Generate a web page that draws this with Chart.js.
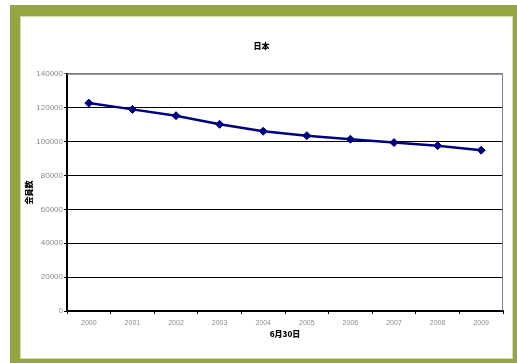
<!DOCTYPE html>
<html>
<head>
<meta charset="utf-8">
<script src="https://cdn.jsdelivr.net/npm/chart.js@4/dist/chart.umd.min.js"></script>
<style>
  html, body { margin: 0; padding: 0; background: #ffffff; width: 517px; height: 363px; overflow: hidden; }
  #frame { position: absolute; left: 10px; top: 5px; width: 507px; height: 358px; background: #95a543; }
  #panel { position: absolute; left: 20px; top: 16px; width: 491px; height: 341px; background: #ffffff; border: 1px solid #d4ddb0; }
  #holder { position: absolute; left: 20px; top: 16px; width: 492px; height: 343px; }
</style>
</head>
<body>
<div id="frame"></div>
<div id="panel"></div>
<div id="holder"><canvas id="chart" width="492" height="343"></canvas></div>
<script>
// Membership as of 30 June each year
const years = ['2000', '2001', '2002', '2003', '2004', '2005', '2006', '2007', '2008', '2009'];
const members = [122700, 119000, 115300, 110200, 106100, 103500, 101400, 99400, 97600, 94900];
const yTicks = [0, 20000, 40000, 60000, 80000, 100000, 120000, 140000];

const chartTitle = '日本';
const xTitle = '6月30日';
const yTitle = '会員数';

const tickFont = { family: '"Liberation Sans", Arial, sans-serif', size: 8 };
const cjkBold = { family: '"Noto Sans CJK JP", "Noto Sans", sans-serif', size: 8, weight: '900' };

// grey frame on the top and right edges of the plot area
const plotFrame = {
  id: 'plotFrame',
  afterDatasetsDraw(chart) {
    const { ctx, chartArea: a } = chart;
    ctx.save();
    ctx.strokeStyle = '#808080';
    ctx.lineWidth = 1;
    ctx.beginPath();
    ctx.moveTo(a.left, a.top + 0.5);
    ctx.lineTo(a.right - 0.5, a.top + 0.5);
    ctx.lineTo(a.right - 0.5, a.bottom);
    ctx.stroke();
    ctx.restore();
  }
};

new Chart(document.getElementById('chart'), {
  type: 'line',
  data: {
    labels: years,
    datasets: [{
      data: members,
      borderColor: '#000080',
      backgroundColor: '#000080',
      borderWidth: 2.5,
      pointStyle: 'rectRot',
      pointRadius: 4,
      pointBorderWidth: 1,
      pointBackgroundColor: '#000080',
      pointBorderColor: '#000080',
      tension: 0,
      fill: false
    }]
  },
  options: {
    responsive: false,
    animation: false,
    devicePixelRatio: 1,
    layout: { padding: { left: 0, right: 9, top: 0, bottom: 0 } },
    plugins: {
      legend: { display: false },
      tooltip: { enabled: false },
      title: {
        display: true,
        text: chartTitle,
        color: '#000000',
        font: cjkBold,
        padding: { top: 24.7, bottom: 23.5 }
      }
    },
    scales: {
      x: {
        offset: true,
        grid: {
          offset: true,
          drawOnChartArea: false,
          drawTicks: true,
          tickLength: 3,
          color: '#000000',
          lineWidth: 1
        },
        border: { display: true, color: '#000000', width: 2 },
        ticks: { color: '#8c8c8c', font: { family: tickFont.family, size: 7 }, padding: 5, maxRotation: 0, autoSkip: false },
        title: {
          display: true,
          text: xTitle,
          color: '#000000',
          font: cjkBold,
          padding: { top: 0, bottom: 20 }
        },
        afterFit(scale) { scale.height = 48; }
      },
      y: {
        min: 0,
        max: 140000,
        afterBuildTicks(scale) { scale.ticks = yTicks.map(v => ({ value: v })); },
        grid: {
          color: ctx => (ctx.tick && ctx.tick.value === 140000) ? '#808080' : '#000000',
          lineWidth: 1,
          drawTicks: true,
          tickLength: 3
        },
        border: { display: true, color: '#000000', width: 2 },
        ticks: { color: '#8c8c8c', font: tickFont, padding: 1, callback: v => String(v) },
        title: {
          display: true,
          text: yTitle,
          color: '#000000',
          font: cjkBold,
          padding: { top: 4.2, bottom: 0 }
        },
        afterFit(scale) { scale.width = 47; }
      }
    }
  },
  plugins: [plotFrame]
});
</script>
</body>
</html>
